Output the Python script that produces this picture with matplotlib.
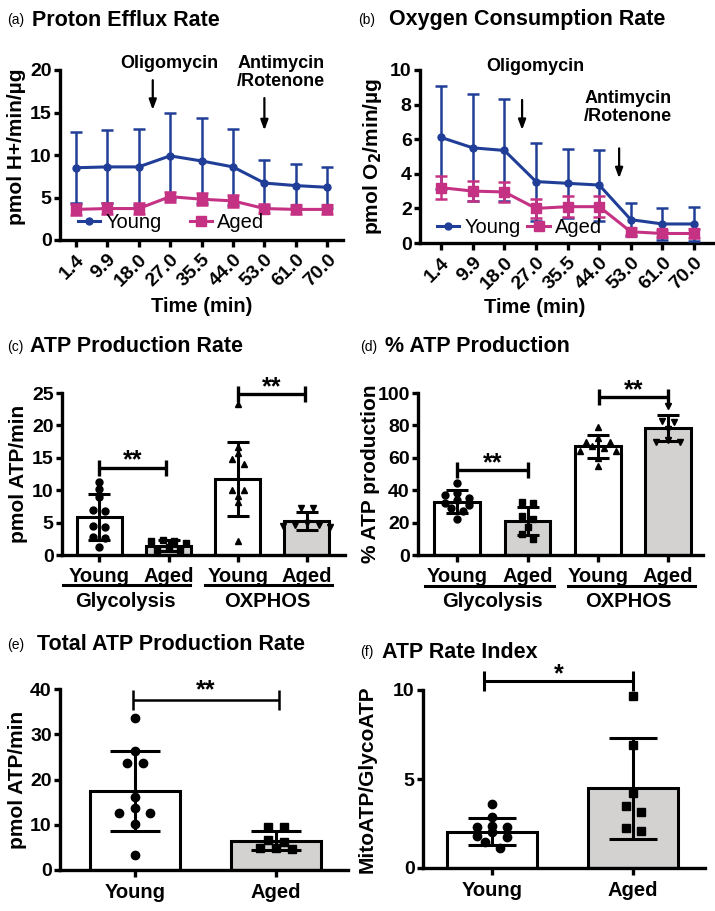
import numpy as np
import matplotlib
matplotlib.use('Agg')
import matplotlib.pyplot as plt
import matplotlib.transforms as mtransforms
from matplotlib.lines import Line2D

plt.rcParams['font.family'] = ['Liberation Sans', 'DejaVu Sans']
plt.rcParams['font.weight'] = 'bold'
plt.rcParams['axes.linewidth'] = 2.4

# ---------------- data ----------------
time_labels = ['1.4', '9.9', '18.0', '27.0', '35.5', '44.0', '53.0', '61.0', '70.0']

# (a) proton efflux rate
per_young = [8.5, 8.6, 8.6, 9.9, 9.3, 8.6, 6.7, 6.4, 6.2]
per_young_sd = [4.2, 4.3, 4.5, 5.1, 5.0, 4.5, 2.7, 2.6, 2.4]
per_aged = [3.6, 3.7, 3.7, 5.1, 4.8, 4.6, 3.7, 3.6, 3.6]
per_aged_sd = [0.6, 0.6, 0.6, 0.6, 0.7, 0.7, 0.5, 0.5, 0.5]

# (b) oxygen consumption rate
ocr_young = [6.1, 5.5, 5.35, 3.55, 3.45, 3.35, 1.35, 1.1, 1.1]
ocr_young_sd = [3.0, 3.1, 2.95, 2.25, 2.0, 2.05, 0.95, 0.95, 1.0]
ocr_aged = [3.2, 3.0, 2.95, 2.0, 2.1, 2.1, 0.65, 0.55, 0.55]
ocr_aged_sd = [0.65, 0.6, 0.6, 0.55, 0.6, 0.6, 0.2, 0.2, 0.25]

group_labels = ['Young', 'Aged', 'Young', 'Aged']

# (c) ATP production rate: glyco young, glyco aged, oxphos young, oxphos aged
atp_means = [5.8, 1.45, 11.7, 5.25]
atp_sd = [3.55, 0.8, 5.75, 1.35]
atp_pts = [
    [11.3, 10.2, 8.9, 6.9, 6.8, 4.4, 4.3, 2.8, 2.7, 1.3],
    [2.3, 2.2, 2.2, 1.9, 1.2, 0.8, 0.7],
    [23.3, 16.6, 15.7, 14.8, 14.1, 10.0, 10.0, 9.1, 8.2, 2.1],
    [7.3, 7.3, 4.9, 4.7, 4.6, 4.4, 4.3],
]

# (d) % ATP production
pct_means = [33, 21, 67, 78.4]
pct_sd = [6.9, 8.7, 6.9, 8.3]
pct_pts = [
    [44.5, 38, 37, 35, 34, 32, 31, 29, 27, 22],
    [32.5, 32, 24, 22, 17, 13, 10],
    [78.8, 72, 70, 70, 67, 66, 64, 64, 60, 55],
    [92, 83, 82, 78, 71, 70, 70],
]

# (e) total ATP production rate
tot_labels = ['Young', 'Aged']
tot_means = [17.5, 6.5]
tot_sd = [8.8, 2.1]
tot_pts = [
    [33.7, 26.2, 23.6, 23.6, 16.2, 13.6, 12.7, 12.7, 10.2, 3.3],
    [9.6, 9.4, 6.6, 6.2, 4.8, 4.8, 4.6],
]

# (f) ATP rate index
idx_means = [2.05, 4.47]
idx_sd = [0.75, 2.85]
idx_pts = [
    [3.6, 2.85, 2.35, 2.3, 2.3, 2.05, 1.8, 1.75, 1.45, 1.1],
    [9.66, 6.9, 4.2, 3.48, 3.16, 2.23, 2.08],
]

BLUE = '#203e97'
PINK = '#c53284'
GREY = '#d4d1d1'
W, H = 715, 911

fig = plt.figure(figsize=(W / 100, H / 100), dpi=100)


def make_axes(left, right, top, bottom):
    # pixel box -> figure fraction
    return fig.add_axes([left / W, 1 - bottom / H, (right - left) / W, (bottom - top) / H])


def style(ax, ylim, yticks):
    ax.spines['top'].set_visible(False)
    ax.spines['right'].set_visible(False)
    ax.set_ylim(*ylim)
    ax.set_yticks(yticks)
    ax.tick_params(width=2.4, length=4, labelsize=14, pad=2)
    for t in ax.get_yticklabels():
        t.set_fontweight('bold')


def panel_title(x_lab, x_title, y, letter, title):
    fig.text(x_lab / W, 1 - y / H, letter, fontsize=10, fontweight='normal', va='center')
    fig.text(x_title / W, 1 - y / H, title, fontsize=15.5, fontweight='bold', va='center')


def ylab(ax, text, off_px, width_px, yc=0.5):
    ax.text(-off_px / width_px, yc, text, rotation=90, ha='center', va='center',
            fontsize=15, fontweight='bold', transform=ax.transAxes)


def swarm_offsets(vals, thresh, step):
    # values closer than thresh share a row and are spread sideways
    vals = np.asarray(vals, float)
    order = np.argsort(vals)
    offs = np.zeros(len(vals))
    clusters = [[order[0]]]
    for i in order[1:]:
        if vals[i] - vals[clusters[-1][0]] < thresh:
            clusters[-1].append(i)
        else:
            clusters.append([i])
    for c in clusters:
        k = len(c)
        slots = sorted(range(k), key=lambda j: abs(j - (k - 1) / 2))
        for j, idx in zip(slots, c[::-1]):
            offs[idx] = (j - (k - 1) / 2) * step
    return offs


def bracket(ax, x0, x1, y, text, lw, tick, dy, fs=18):
    ax.plot([x0, x1], [y, y], color='k', lw=lw, marker='|', markersize=tick,
            mew=lw, clip_on=False, solid_capstyle='butt')
    ax.annotate(text, xy=((x0 + x1) / 2, y), xytext=(0, dy), textcoords='offset points',
                ha='center', va='center', fontsize=fs, fontweight='bold', annotation_clip=False)


def line_panel(ax, young, ysd, aged, asd, ylim, yticks):
    x = np.arange(len(time_labels))
    ax.errorbar(x, young, yerr=ysd, color=BLUE, lw=2.2, marker='o', ms=5, capsize=4,
                elinewidth=1.8, capthick=1.8, zorder=3)
    ax.errorbar(x, aged, yerr=asd, color=PINK, lw=2.2, marker='s', ms=7, capsize=4,
                elinewidth=1.8, capthick=1.8, zorder=4)
    ax.set_xticks(x)
    ax.set_xticklabels(time_labels, rotation=45, ha='right', rotation_mode='anchor',
                       fontsize=13, fontweight='bold')
    style(ax, ylim, yticks)
    ax.tick_params(axis='x', length=5, pad=3)


def line_legend(ax, anchor, colsp):
    handles = [Line2D([], [], color=BLUE, lw=2.2, marker='o', ms=5),
               Line2D([], [], color=PINK, lw=2.2, marker='s', ms=7)]
    leg = ax.legend(handles, ['Young', 'Aged'], loc='center left', bbox_to_anchor=anchor,
                    ncol=2, frameon=False, fontsize=14.5, handlelength=1.1,
                    handletextpad=0.25, columnspacing=colsp, borderpad=0, borderaxespad=0)
    for t in leg.get_texts():
        t.set_fontweight('normal')


def arrow(ax, x, y0, y1):
    ax.annotate('', xy=(x, y1), xytext=(x, y0), annotation_clip=False,
                arrowprops=dict(arrowstyle='-|>,head_width=0.22,head_length=0.6',
                                color='k', lw=1.6, shrinkA=0, shrinkB=0))


# ---------------- (a) ----------------
ax = make_axes(60, 343, 70, 240)
line_panel(ax, per_young, per_young_sd, per_aged, per_aged_sd, (0, 20), [0, 5, 10, 15, 20])
ax.set_xlim(-0.5, 8.5)
line_legend(ax, (0.064, 0.1), 1.4)
ax.text(2.98, 20.8, 'Oligomycin', ha='center', va='center', fontsize=13, fontweight='bold')
arrow(ax, 2.45, 18.8, 15.3)
ax.text(6.53, 19.7, 'Antimycin\n/Rotenone', ha='center', va='center', fontsize=13,
        fontweight='bold', linespacing=1.05)
arrow(ax, 6.0, 16.7, 12.9)
ylab(ax, 'pmol H+/min/µg', 43, 283, 0.55)
ax.text(0.5, -0.394, 'Time (min)', ha='center', va='center', fontsize=14.5,
        fontweight='bold', transform=ax.transAxes)
panel_title(7, 32, 20, '(a)', 'Proton Efflux Rate')

# ---------------- (b) ----------------
ax = make_axes(420, 713, 70, 243)
line_panel(ax, ocr_young, ocr_young_sd, ocr_aged, ocr_aged_sd, (0, 10), [0, 2, 4, 6, 8, 10])
ax.set_xlim(-0.67, 8.6)
line_legend(ax, (0.058, 0.087), 0.35)
ax.text(2.98, 10.2, 'Oligomycin', ha='center', va='center', fontsize=13, fontweight='bold')
arrow(ax, 2.56, 8.27, 6.53)
ax.text(5.9, 7.83, 'Antimycin\n/Rotenone', ha='center', va='center', fontsize=13,
        fontweight='bold', linespacing=1.05)
arrow(ax, 5.63, 5.47, 3.74)
ylab(ax, 'pmol O$_\\mathbf{2}$/min/µg', 48, 293)
ax.text(0.39, -0.37, 'Time (min)', ha='center', va='center', fontsize=14.5,
        fontweight='bold', transform=ax.transAxes)
panel_title(358, 389, 20, '(b)', 'Oxygen Consumption Rate')


# ---------------- bar panels ----------------
def bar_panel(ax, labels, means, sd, pts, markers, thresh, step, ms, capsize, bw):
    x = np.arange(len(means))
    colors = ['white' if l == 'Young' else GREY for l in labels]
    ax.bar(x, means, width=bw, color=colors, edgecolor='k', linewidth=2.2, zorder=1)
    for i, (vals, mk) in enumerate(zip(pts, markers)):
        offs = swarm_offsets(vals, thresh, step)
        ax.plot(x[i] + offs, vals, linestyle='none', marker=mk, color='k', ms=ms, zorder=3,
                clip_on=False)
    ax.errorbar(x, means, yerr=sd, fmt='none', ecolor='k', elinewidth=2.2, capsize=capsize,
                capthick=2.2, zorder=4)
    ax.set_xticks(x)
    ax.set_xticklabels(labels, fontsize=14.5, fontweight='bold')
    ax.tick_params(axis='x', length=5, pad=4)


def group_lines(ax, spans, centers, names, y_line, y_text):
    tr = mtransforms.blended_transform_factory(ax.transData, ax.transAxes)
    for (x0, x1), xc, name in zip(spans, centers, names):
        ax.plot([x0, x1], [y_line, y_line], color='k', lw=2.2, transform=tr, clip_on=False)
        ax.text(xc, y_text, name, ha='center', va='center', fontsize=14.5, fontweight='bold',
                transform=tr)


# (c)
ax = make_axes(62, 345, 393, 555)
style(ax, (0, 25), [0, 5, 10, 15, 20, 25])
bar_panel(ax, group_labels, atp_means, atp_sd, atp_pts, ['o', 's', '^', 'v'],
          0.85, 0.17, 5, 8, 0.65)
ax.set_xlim(-0.54, 3.55)
group_lines(ax, [(-0.53, 1.31), (1.53, 3.36)], [0.37, 2.43], ['Glycolysis', 'OXPHOS'],
            -0.185, -0.29)
bracket(ax, 0, 0.97, 13.5, '**', 2.4, 11, 5)
bracket(ax, 2, 2.97, 24.8, '**', 2.4, 11, 5)
ylab(ax, 'pmol ATP/min', 43, 283)
panel_title(7, 30, 347, '(c)', 'ATP Production Rate')

# (d)
ax = make_axes(418, 703, 393, 555)
style(ax, (0, 100), [0, 20, 40, 60, 80, 100])
bar_panel(ax, group_labels, pct_means, pct_sd, pct_pts, ['o', 's', '^', 'v'],
          3.4, 0.17, 5, 8, 0.65)
ax.set_xlim(-0.56, 3.5)
group_lines(ax, [(-0.46, 1.38), (1.58, 3.38)], [0.5, 2.43], ['Glycolysis', 'OXPHOS'],
            -0.19, -0.29)
bracket(ax, 0, 1, 52.6, '**', 2.4, 11, 5)
bracket(ax, 2.02, 3, 97.5, '**', 2.4, 11, 5)
ylab(ax, '% ATP production', 48, 285)
panel_title(360, 385, 347, '(d)', '% ATP Production')

# (e)
ax = make_axes(60, 348, 689, 870)
style(ax, (0, 40), [0, 10, 20, 30, 40])
bar_panel(ax, tot_labels, tot_means, tot_sd, tot_pts, ['o', 's'],
          1.2, 0.11, 6, 18, 0.64)
ax.set_xlim(-0.53, 1.51)
bracket(ax, -0.01, 1.02, 37.6, '**', 1.8, 14, 7)
ylab(ax, 'pmol ATP/min', 42, 288)
panel_title(7, 37, 645, '(e)', 'Total ATP Production Rate')

# (f)
ax = make_axes(423, 705, 690, 868)
style(ax, (0, 10), [0, 5, 10])
bar_panel(ax, tot_labels, idx_means, idx_sd, idx_pts, ['o', 's'],
          0.35, 0.107, 6, 17, 0.64)
ax.set_xlim(-0.49, 1.51)
bracket(ax, -0.06, 1.0, 10.5, '*', 2.2, 14, 5)
ylab(ax, 'MitoATP/GlycoATP', 56, 282)
panel_title(360, 382, 652, '(f)', 'ATP Rate Index')

fig.savefig('out.png', dpi=100)
